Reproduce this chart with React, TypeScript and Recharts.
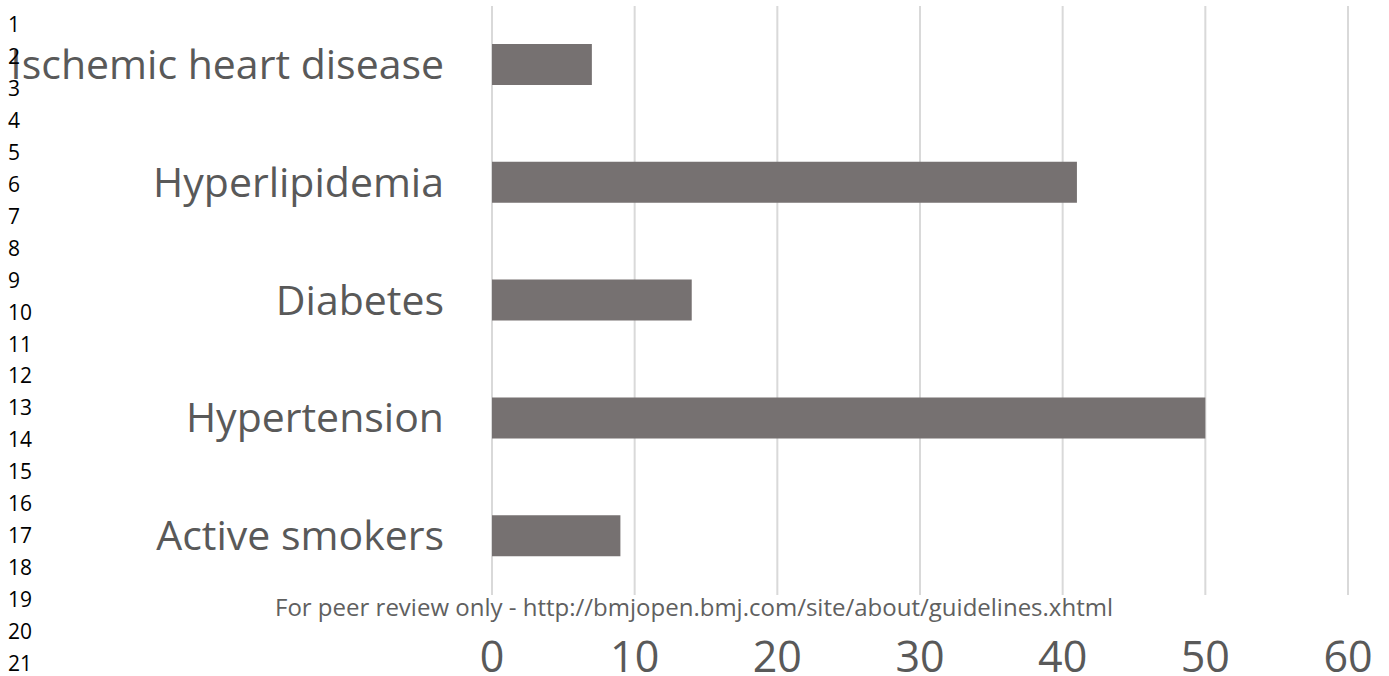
import React from 'react';
import { BarChart, Bar, XAxis, YAxis, CartesianGrid } from 'recharts';

const categories = ['Ischemic heart disease', 'Hyperlipidemia', 'Diabetes', 'Hypertension', 'Active smokers'];
const percentages = [7, 41, 14, 50, 9];
const xTicks = [0, 10, 20, 30, 40, 50, 60];
const lineNumbers = ['1', '2', '3', '4', '5', '6', '7', '8', '9', '10', '11', '12', '13', '14', '15', '16', '17', '18', '19', '20', '21'];
const footerText = 'For peer review only - http://bmjopen.bmj.com/site/about/guidelines.xhtml';

const W = 1389;
const H = 676;
const FONT = '"Open Sans", "Noto Sans", sans-serif';
const TEXT_GREY = '#595959';

const data = categories.map((name, i) => ({ name, value: percentages[i] }));

const CategoryTick = (props: any) => {
  const { x, y, payload } = props;
  return (
    <text x={x - 40} y={y} dy={14} textAnchor="end" fontSize={41} fill={TEXT_GREY} fontFamily={FONT}>
      {payload.value}
    </text>
  );
};

const ValueTick = (props: any) => {
  const { x, payload } = props;
  return (
    <text x={x} y={672} textAnchor="middle" fontSize={43} fill={TEXT_GREY} fontFamily={FONT}>
      {payload.value}
    </text>
  );
};

export default function App() {
  return (
    <div style={{ position: 'absolute', left: 0, top: 0, width: W, height: H, background: '#fff' }}>
      <BarChart
        width={W}
        height={H}
        data={data}
        layout="vertical"
        margin={{ top: 6, right: 41, bottom: 0, left: 0 }}
        barCategoryGap={0}
      >
        <CartesianGrid horizontal={false} stroke="#d9d9d9" strokeWidth={2} />
        <XAxis
          type="number"
          domain={[0, 60]}
          ticks={xTicks}
          axisLine={false}
          tickLine={false}
          height={81}
          tick={<ValueTick />}
          interval={0}
        />
        <YAxis
          type="category"
          dataKey="name"
          width={492}
          axisLine={false}
          tickLine={false}
          tick={<CategoryTick />}
          interval={0}
        />
        <Bar dataKey="value" fill="#767171" barSize={41} isAnimationActive={false} />
      </BarChart>
      <svg width={W} height={H} style={{ position: 'absolute', left: 0, top: 0, pointerEvents: 'none' }}>
        {lineNumbers.map((n, i) => (
          <text key={n} x={8} y={32 + i * 31.95} fontSize={21} fill="#000" fontFamily={FONT}>
            {n}
          </text>
        ))}
        <text
          x={275}
          y={616}
          fontSize={23}
          fill="#606060"
          fontFamily={FONT}
          textLength={838}
          lengthAdjust="spacingAndGlyphs"
        >
          {footerText}
        </text>
      </svg>
    </div>
  );
}
